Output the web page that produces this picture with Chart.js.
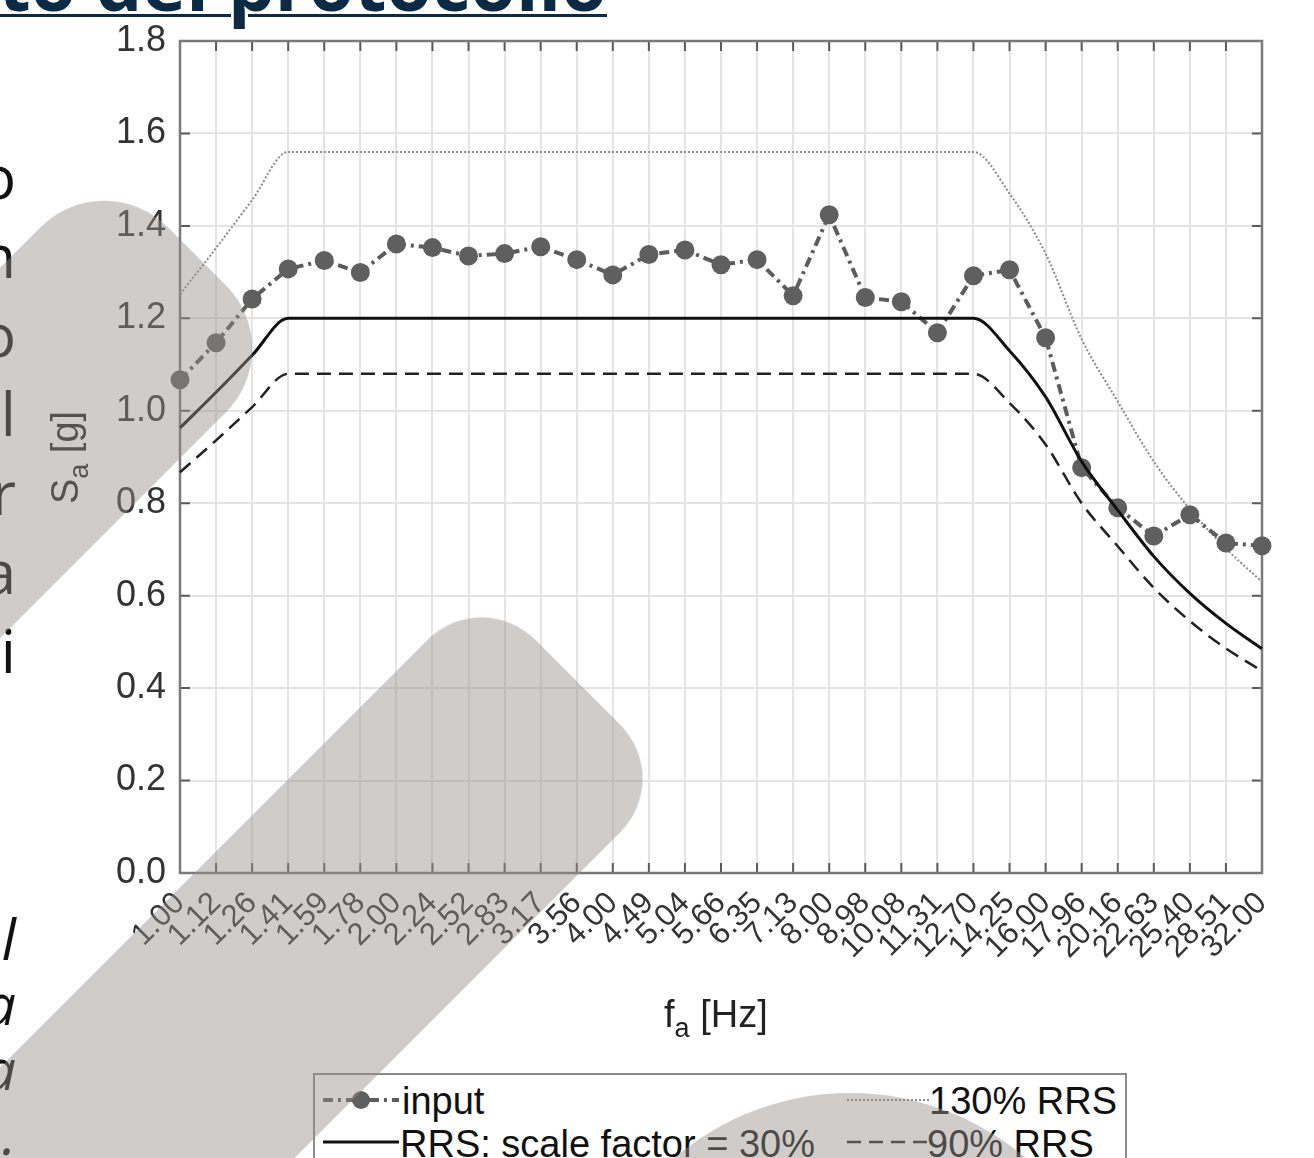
<!DOCTYPE html>
<html>
<head>
<meta charset="utf-8">
<script src="https://cdn.jsdelivr.net/npm/chart.js@4.4.1/dist/chart.umd.min.js"></script>
<style>
  html, body { margin: 0; padding: 0; background: #fff; }
  body { width: 1314px; height: 1158px; position: relative; overflow: hidden; font-family: "Liberation Sans", Arial, sans-serif; }
  #wrap { position: absolute; left: 0; top: 0; width: 1314px; height: 1060px; }
  .title { position: absolute; right: 707px; top: -54px; white-space: nowrap; font: bold 74px/74px "Open Sans", sans-serif;
           color: #0d2a45; text-decoration: underline; text-decoration-thickness: 3px; text-underline-offset: 3px; }
  .side { position: absolute; left: -200px; width: 216px; text-align: right; font-family: "Open Sans", sans-serif; color: #111; }
  .axt { position: absolute; font-size: 38px; color: #222; white-space: nowrap; }
  .axt sub { font-size: 27px; vertical-align: -10px; }
  #legend { position: absolute; left: 313px; top: 1073px; width: 810px; height: 120px; border: 2px solid #8a8a8a; background: #fff; }
  #legend .it { position: absolute; font-size: 38px; color: #111; white-space: nowrap; line-height: 40px; }
  #legend svg { position: absolute; }
  .blob { position: absolute; background: rgba(150,142,137,0.45); transform: rotate(-45deg); }
</style>
</head>
<body>
<div class="title">Esito del protocollo</div>
<div class="side" style="top:137px;font-size:60px;line-height:79px;">o<br>n<br>o<br>l<br>r<br>a<br>i</div>
<div class="side" style="top:906px;font-size:56px;line-height:65px;font-style:italic;">l<br>a<br>a<br>.</div>

<div id="wrap"><canvas id="chart" width="1314" height="1060"></canvas></div>

<div class="axt" style="left:664px;top:993px;">f<sub>a</sub> [Hz]</div>
<div class="axt" style="left:14px;top:432px;transform:rotate(-90deg);transform-origin:50% 50%;width:110px;text-align:center;">S<sub>a</sub> [g]</div>

<div id="legend">
  <svg style="left:6px;top:8px" width="80" height="34"><line x1="2" y1="17" x2="78" y2="17" stroke="#5c5c5c" stroke-width="4" stroke-dasharray="10,5,3,5"/><circle cx="40" cy="17" r="9" fill="#5f5f5f"/></svg>
  <div class="it" style="left:87px;top:6px;">input</div>
  <svg style="left:532px;top:8px" width="82" height="34"><line x1="0" y1="17" x2="82" y2="17" stroke="#8a8a8a" stroke-width="2" stroke-dasharray="2,2"/></svg>
  <div class="it" style="left:614px;top:6px;">130% RRS</div>
  <svg style="left:6px;top:50px" width="80" height="34"><line x1="2" y1="17" x2="78" y2="17" stroke="#111" stroke-width="3"/></svg>
  <div class="it" style="left:85px;top:49px;">RRS: scale factor = 30%</div>
  <svg style="left:532px;top:50px" width="82" height="34"><line x1="0" y1="17" x2="82" y2="17" stroke="#222" stroke-width="2.5" stroke-dasharray="14,8"/></svg>
  <div class="it" style="left:612px;top:49px;">90% RRS</div>
</div>

<div class="blob" style="left:-486px;top:408px;width:800px;height:262px;border-radius:90px;"></div>
<div class="blob" style="left:-276px;top:900px;width:1000px;height:272px;border-radius:75px;"></div>
<div class="blob" style="left:580px;top:1093px;width:540px;height:540px;border-radius:50%;transform:none;"></div>

<script>
// frequency axis (1/6 octave)
const freqs = ['1.00', '1.12', '1.26', '1.41', '1.59', '1.78', '2.00', '2.24', '2.52', '2.83', '3.17',
  '3.56', '4.00', '4.49', '5.04', '5.66', '6.35', '7.13', '8.00', '8.98', '10.08', '11.31',
  '12.70', '14.25', '16.00', '17.96', '20.16', '22.63', '25.40', '28.51', '32.00'];

const input = [1.067, 1.147, 1.242, 1.307, 1.325, 1.299, 1.361, 1.353, 1.335, 1.340, 1.355,
  1.327, 1.294, 1.338, 1.348, 1.316, 1.327, 1.249, 1.424, 1.245, 1.236, 1.169,
  1.292, 1.305, 1.158, 0.877, 0.790, 0.729, 0.775, 0.714, 0.708];

const rrs = [0.963, 1.04, 1.12, 1.2, 1.2, 1.2, 1.2, 1.2, 1.2, 1.2, 1.2,
  1.2, 1.2, 1.2, 1.2, 1.2, 1.2, 1.2, 1.2, 1.2, 1.2, 1.2,
  1.2, 1.13, 1.03, 0.89, 0.785, 0.685, 0.605, 0.54, 0.485];

const rrs130 = [1.252, 1.352, 1.456, 1.56, 1.56, 1.56, 1.56, 1.56, 1.56, 1.56, 1.56,
  1.56, 1.56, 1.56, 1.56, 1.56, 1.56, 1.56, 1.56, 1.56, 1.56, 1.56,
  1.56, 1.47, 1.34, 1.155, 1.02, 0.89, 0.787, 0.702, 0.63];

const rrs90 = [0.867, 0.936, 1.008, 1.08, 1.08, 1.08, 1.08, 1.08, 1.08, 1.08, 1.08,
  1.08, 1.08, 1.08, 1.08, 1.08, 1.08, 1.08, 1.08, 1.08, 1.08, 1.08,
  1.08, 1.017, 0.927, 0.80, 0.707, 0.617, 0.545, 0.486, 0.437];

// frame + inward ticks, matlab style
const frame = {
  id: 'frame',
  beforeDatasetsDraw(chart) {
    const { ctx, chartArea: a, scales: { x, y } } = chart;
    ctx.save();
    ctx.strokeStyle = '#5a5a5a';
    ctx.lineWidth = 2;
    ctx.beginPath();
    x.ticks.forEach((t, i) => {
      const px = x.getPixelForTick(i);
      ctx.moveTo(px, a.top); ctx.lineTo(px, a.top + 10);
      ctx.moveTo(px, a.bottom); ctx.lineTo(px, a.bottom - 10);
    });
    y.ticks.forEach((t, i) => {
      const py = y.getPixelForTick(i);
      ctx.moveTo(a.left, py); ctx.lineTo(a.left + 10, py);
      ctx.moveTo(a.right, py); ctx.lineTo(a.right - 10, py);
    });
    ctx.stroke();
    ctx.strokeStyle = '#7a7a7a';
    ctx.lineWidth = 2.5;
    ctx.strokeRect(a.left, a.top, a.right - a.left, a.bottom - a.top);
    ctx.restore();
  }
};

const mono = { cubicInterpolationMode: 'monotone', pointRadius: 0, fill: false };

new Chart(document.getElementById('chart'), {
  type: 'line',
  data: {
    labels: freqs,
    datasets: [
      { label: 'RRS: scale factor = 30%', data: rrs, borderColor: '#111', borderWidth: 3, ...mono },
      { label: 'input', data: input, borderColor: '#5c5c5c', borderWidth: 4, borderDash: [10, 5, 3, 5],
        pointRadius: 9.5, pointBackgroundColor: '#5f5f5f', pointBorderWidth: 0, tension: 0, clip: false },
      { label: '130% RRS', data: rrs130, borderColor: '#8a8a8a', borderWidth: 2, borderDash: [2, 2], ...mono },
      { label: '90% RRS', data: rrs90, borderColor: '#222', borderWidth: 2.5, borderDash: [14, 8], ...mono }
    ]
  },
  options: {
    responsive: false,
    animation: false,
    devicePixelRatio: 1,
    layout: { padding: { top: 41, right: 52, left: 0, bottom: 0 } },
    plugins: { legend: { display: false }, tooltip: { enabled: false } },
    scales: {
      x: {
        offset: false,
        grid: { color: '#e4e4e4', lineWidth: 2, drawTicks: false },
        border: { display: false },
        ticks: { autoSkip: false, maxRotation: 45, minRotation: 45, padding: 12, color: '#333',
                 font: { family: 'Liberation Sans', size: 31 } },
        afterFit: s => { s.height = 187; }
      },
      y: {
        min: 0, max: 1.8,
        grid: { color: '#e4e4e4', lineWidth: 2, drawTicks: false },
        border: { display: false },
        ticks: { stepSize: 0.2, padding: 14, color: '#333', font: { family: 'Liberation Sans', size: 36 },
                 callback: v => v.toFixed(1) },
        afterFit: s => { s.width = 180; }
      }
    }
  },
  plugins: [frame]
});
</script>
</body>
</html>
